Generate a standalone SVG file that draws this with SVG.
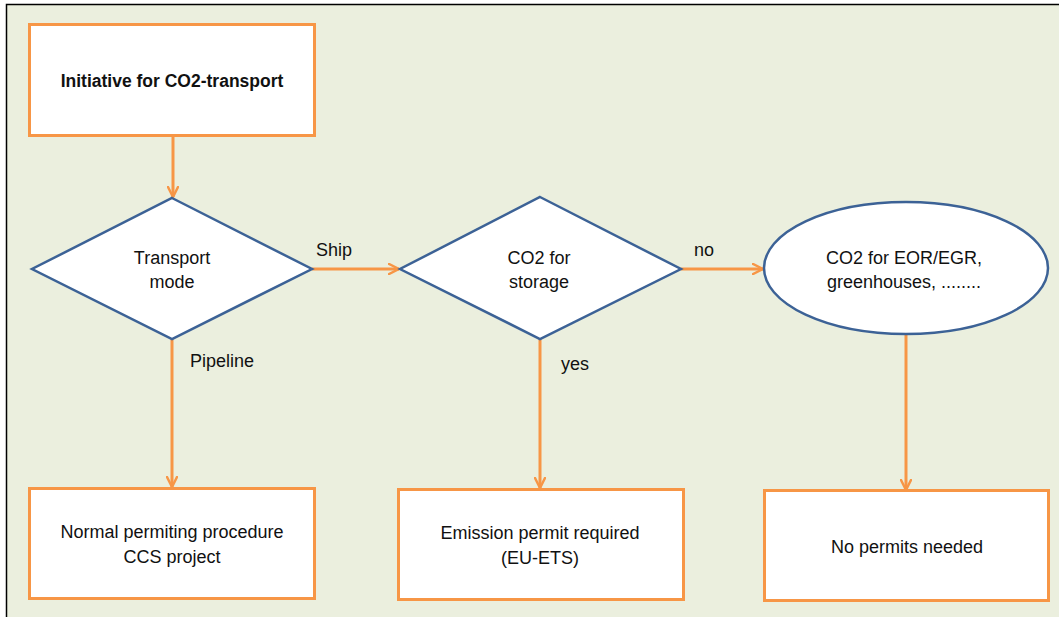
<svg xmlns="http://www.w3.org/2000/svg" width="1059" height="617" viewBox="0 0 1059 617">
<defs>
<marker id="arr" viewBox="0 0 12 12" refX="11" refY="6" markerWidth="12" markerHeight="12" markerUnits="userSpaceOnUse" orient="auto">
<polyline points="1,1 11,6 1,11" fill="none" stroke="#F79646" stroke-width="2.5" stroke-linecap="round" stroke-linejoin="round"/>
</marker>
<style>
.box{fill:#FFFFFF;stroke:#F79646;stroke-width:3}
.dec{fill:#FFFFFF;stroke:#3C6296;stroke-width:2.5}
.con{fill:none;stroke:#F79646;stroke-width:3;marker-end:url(#arr)}
text{font-family:"Liberation Sans",Arial,sans-serif;font-size:18px;fill:#111111}
.c{text-anchor:middle}
.b{font-weight:bold;font-size:17.5px}
</style>
</defs>
<rect x="0" y="0" width="1059" height="617" fill="#FFFFFF"/>
<rect x="6.5" y="4.5" width="1060" height="620" fill="#EBEFDE" stroke="#000000" stroke-width="1.5"/>
<g id="connectors">
<line class="con" x1="173" y1="136" x2="173" y2="197"/>
<line class="con" x1="312" y1="269" x2="399" y2="269"/>
<line class="con" x1="681" y1="269" x2="763" y2="269"/>
<line class="con" x1="172" y1="339" x2="172" y2="487"/>
<line class="con" x1="540" y1="339" x2="540" y2="488"/>
<line class="con" x1="906" y1="334" x2="906" y2="490"/>
<text x="316" y="256">Ship</text>
<text x="190" y="367">Pipeline</text>
<text x="694" y="256">no</text>
<text x="561" y="370">yes</text>
</g>
<g id="initiative">
<rect class="box" x="29.5" y="24.5" width="285" height="111"/>
<text class="c b" x="172" y="87">Initiative for CO2-transport</text>
</g>
<g id="transport-mode">
<polygon class="dec" points="172,198 312,269 172,339 32,269"/>
<text class="c" x="172" y="264">Transport</text>
<text class="c" x="172" y="288">mode</text>
</g>
<g id="co2-storage">
<polygon class="dec" points="540,197 681,269 540,339 400,269"/>
<text class="c" x="539" y="264">CO2 for</text>
<text class="c" x="539" y="288">storage</text>
</g>
<g id="co2-eor">
<ellipse class="dec" cx="906" cy="268" rx="142" ry="66"/>
<text class="c" x="904" y="264">CO2 for EOR/EGR,</text>
<text class="c" x="904" y="288">greenhouses, ........</text>
</g>
<g id="normal-permitting">
<rect class="box" x="29.5" y="488.5" width="285" height="110"/>
<text class="c" x="172" y="538">Normal permiting procedure</text>
<text class="c" x="172" y="563">CCS project</text>
</g>
<g id="emission-permit">
<rect class="box" x="398.5" y="489.5" width="285" height="110"/>
<text class="c" x="540" y="539">Emission permit required</text>
<text class="c" x="540" y="564">(EU-ETS)</text>
</g>
<g id="no-permits">
<rect class="box" x="764.5" y="490.5" width="284" height="110"/>
<text class="c" x="907" y="553">No permits needed</text>
</g>
</svg>
